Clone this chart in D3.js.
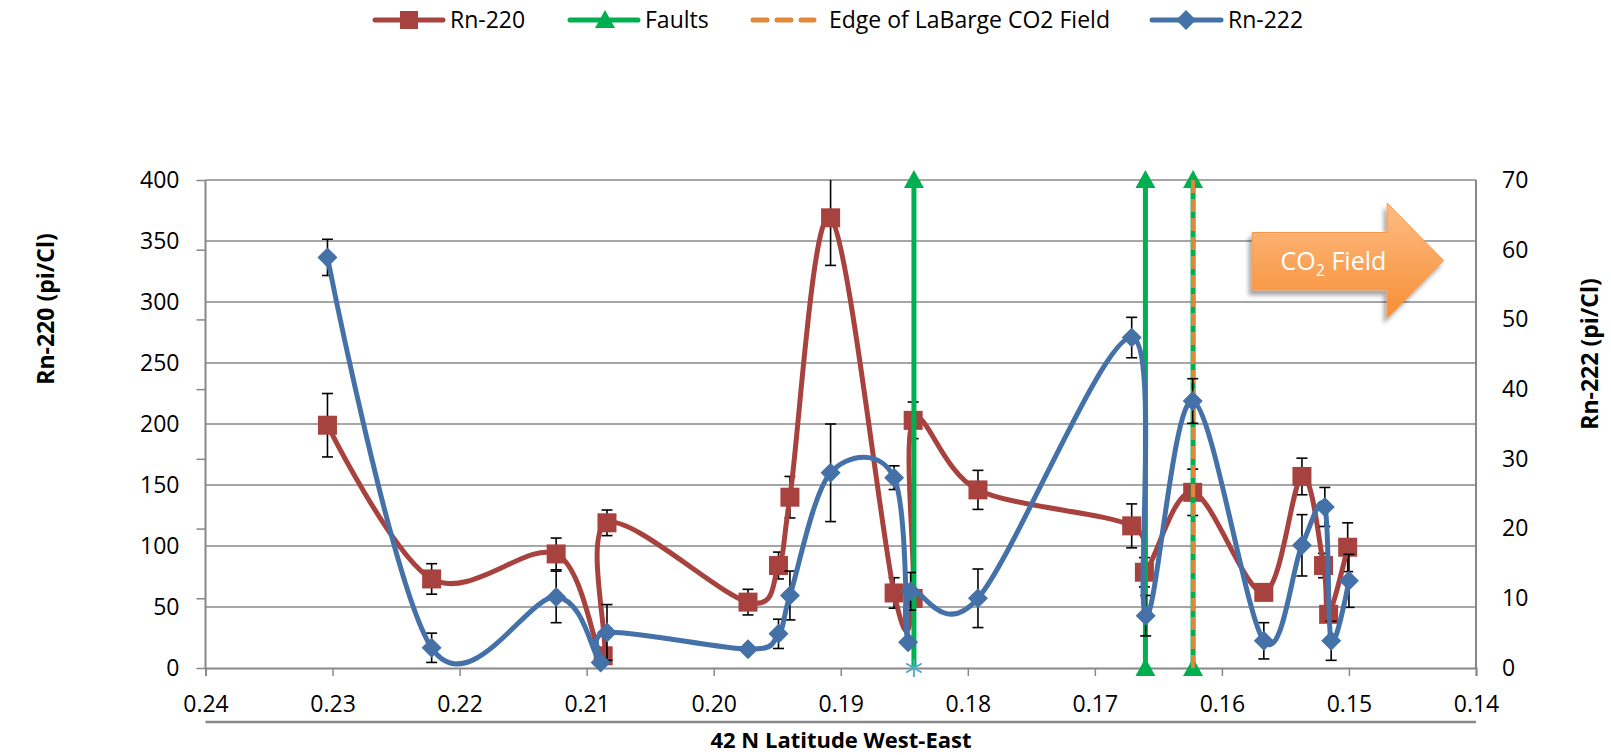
<!DOCTYPE html>
<html><head><meta charset="utf-8">
<script src="https://cdn.jsdelivr.net/npm/d3@7/dist/d3.min.js"></script>
<style>
body{margin:0;background:#fff}
text{font-family:"Open Sans",sans-serif}
</style>
</head><body>
<svg id="c" width="1611" height="755"></svg>
<script>
// ---------- DATA ----------
const rn220Lat = [0.2304, 0.2222, 0.2124, 0.2087, 0.2084, 0.1973, 0.1949, 0.1940, 0.1908, 0.1858, 0.1843, 0.1843, 0.1792, 0.1671, 0.1661, 0.1623, 0.1567, 0.1537, 0.1520, 0.1516, 0.1501];
const rn220Val = [199, 73, 93.5, 10, 119, 54, 84, 140, 369, 61.5, 57, 203, 146, 116.5, 78.5, 144, 62, 157, 84, 44, 99];
const rn220Err = [26, 12.5, 13, 4, 10.5, 10.5, 11, 17, 39, 12.5, 6, 15, 16, 18, 12, 19, 6, 15, 10, 6, 20];

const rn222Lat = [0.2304, 0.2222, 0.2124, 0.2089, 0.2084, 0.1973, 0.1949, 0.1940, 0.1908, 0.1858, 0.1847, 0.1845, 0.1792, 0.1671, 0.1660, 0.1623, 0.1567, 0.1537, 0.1519, 0.1514, 0.1500];
const rn222Val = [58.9, 2.9, 10.2, 0.8, 5.1, 2.7, 4.9, 10.4, 28.0, 27.3, 3.7, 11.0, 10.0, 47.4, 7.5, 38.3, 3.9, 17.6, 23.1, 3.9, 12.5];
const rn222Err = [2.6, 2.1, 3.7, 0.5, 4, 0.5, 2.1, 3.5, 7, 1.7, 0.5, 2.7, 4.2, 2.9, 2.9, 3.2, 2.6, 4.4, 2.8, 2.8, 3.8];

const faultLat = [0.18424, 0.16602, 0.16227];
const faultRange = [0, 400];
const edgeLat = [0.16227];

const xTicks = [0.24, 0.23, 0.22, 0.21, 0.20, 0.19, 0.18, 0.17, 0.16, 0.15, 0.14];
const yLeftTicks = [0, 50, 100, 150, 200, 250, 300, 350, 400];
const yRightTicks = [0, 10, 20, 30, 40, 50, 60, 70];

const legendItems = ["Rn-220", "Faults", "Edge of LaBarge CO2 Field", "Rn-222"];
const titles = {left: "Rn-220 (pi/Cl)", right: "Rn-222 (pi/Cl)", x: "42 N Latitude West-East"};

// ---------- SETUP ----------
const svg = d3.select("#c");
const L = 205.5, R = 1476, T = 180, B = 668;
const x = d3.scaleLinear().domain([0.24, 0.14]).range([L, R]);
const yL = d3.scaleLinear().domain([0, 400]).range([B, T]);
const yR = d3.scaleLinear().domain([0, 70]).range([B, T]);

const RED = "#A8423F", BLUE = "#4471A8", GREEN = "#00B050", ORANGE = "#E0873A", GRID = "#888888", TEAL = "#4BACC6";

const defs = svg.append("defs");
defs.append("clipPath").attr("id", "plotclip").append("rect")
  .attr("x", L - 20).attr("y", T).attr("width", R - L + 40).attr("height", B - T + 1);
const grad = defs.append("linearGradient").attr("id", "og").attr("x1", 0).attr("y1", 0).attr("x2", 0).attr("y2", 1);
grad.append("stop").attr("offset", "0%").attr("stop-color", "#FDBD84");
grad.append("stop").attr("offset", "100%").attr("stop-color", "#F78E35");
const flt = defs.append("filter").attr("id", "sh").attr("x", "-20%").attr("y", "-20%").attr("width", "140%").attr("height", "150%");
flt.append("feDropShadow").attr("dx", -3).attr("dy", 5).attr("stdDeviation", 2).attr("flood-color", "#000").attr("flood-opacity", 0.35);

// gridlines
svg.append("g").selectAll("line").data(yLeftTicks.filter(d => d > 0)).join("line")
  .attr("x1", L).attr("x2", R).attr("y1", d => yL(d)).attr("y2", d => yL(d))
  .attr("stroke", GRID).attr("stroke-width", 1.5);

// axes
const fmtX = d3.format(".2f");
const gx = svg.append("g").attr("transform", `translate(0,${B})`)
  .call(d3.axisBottom(x).tickValues(xTicks).tickSize(8).tickPadding(20).tickFormat(fmtX));
const gl = svg.append("g").attr("transform", `translate(${L},0)`)
  .call(d3.axisLeft(yL).tickValues(yLeftTicks).tickSize(0).tickPadding(26));
const glt = svg.append("g").attr("transform", `translate(${L},0)`)
  .call(d3.axisLeft(yR).tickValues(yRightTicks).tickSize(9).tickFormat(""));
const gr = svg.append("g").attr("transform", `translate(${R},0)`)
  .call(d3.axisRight(yR).tickValues(yRightTicks).tickSize(0).tickPadding(26));
[gx, gl, glt, gr].forEach(g => {
  g.select(".domain").attr("stroke", GRID).attr("stroke-width", 2);
  g.selectAll(".tick line").attr("stroke", GRID).attr("stroke-width", 1.5);
  g.selectAll("text").attr("font-size", 23).attr("fill", "#000").attr("font-family", "Open Sans");
});
glt.select(".domain").remove();
gl.select(".domain").attr("d", `M0,${T}V${B}`);
gr.select(".domain").attr("d", `M0,${T}V${B}`);

// line under x labels
svg.append("line").attr("x1", L).attr("x2", R).attr("y1", 722).attr("y2", 722)
  .attr("stroke", GRID).attr("stroke-width", 2.5);

// arrow annotation (in data units)
const arrowPts = [[0.15762, 357], [0.14699, 357], [0.14699, 381], [0.14254, 334], [0.14699, 287], [0.14699, 310], [0.15762, 310]];
svg.append("polygon").attr("points", arrowPts.map(p => [x(p[0]), yL(p[1])].join(",")).join(" "))
  .attr("fill", "url(#og)").attr("stroke", "#F79646").attr("stroke-width", 1).attr("filter", "url(#sh)");
const at = svg.append("text").attr("x", x(0.15122)).attr("y", yL(334)).attr("dy", "0.36em")
  .attr("text-anchor", "middle").attr("fill", "#fff").attr("font-size", 25);
at.append("tspan").text("CO");
at.append("tspan").text("2").attr("font-size", 16).attr("dy", 6);
at.append("tspan").text(" Field").attr("dy", -6);

const curve = d3.curveCardinal.tension(0);
function errBars(lat, val, err, ys) {
  const g = svg.append("g").attr("clip-path", "url(#plotclip)").attr("stroke", "#000").attr("stroke-width", 1.6);
  lat.forEach((d, i) => {
    const cx = x(d), y0 = ys(val[i] - err[i]), y1 = ys(val[i] + err[i]);
    g.append("line").attr("x1", cx).attr("x2", cx).attr("y1", y0).attr("y2", y1);
    g.append("line").attr("x1", cx - 5.5).attr("x2", cx + 5.5).attr("y1", y0).attr("y2", y0);
    g.append("line").attr("x1", cx - 5.5).attr("x2", cx + 5.5).attr("y1", y1).attr("y2", y1);
  });
}

// Rn-220
errBars(rn220Lat, rn220Val, rn220Err, yL);
const redPts = rn220Lat.map((d, i) => [x(d), yL(rn220Val[i])]);
svg.append("path").attr("d", d3.line().curve(curve)(redPts)).attr("fill", "none")
  .attr("stroke", RED).attr("stroke-width", 5).attr("stroke-linejoin", "round");
svg.append("g").selectAll("rect").data(redPts).join("rect")
  .attr("x", d => d[0] - 9.5).attr("y", d => d[1] - 9.5).attr("width", 19).attr("height", 19).attr("fill", RED);

// Faults
const triUp = "M0,-10L10,8L-10,8Z";
faultLat.forEach((f, i) => {
  svg.append("line").attr("x1", x(f)).attr("x2", x(f)).attr("y1", yL(faultRange[0])).attr("y2", yL(faultRange[1]))
    .attr("stroke", GREEN).attr("stroke-width", 5);
  svg.append("path").attr("d", triUp).attr("fill", GREEN).attr("transform", `translate(${x(f)},${yL(faultRange[1])})`);
  if (i === 0) {
    const g = svg.append("g").attr("transform", `translate(${x(f)},${yL(faultRange[0])})`)
      .attr("stroke", TEAL).attr("stroke-width", 1.8);
    [90, 30, 150].forEach(a => {
      const r = a * Math.PI / 180, dx = 9 * Math.cos(r), dy = 9 * Math.sin(r);
      g.append("line").attr("x1", -dx).attr("y1", -dy).attr("x2", dx).attr("y2", dy);
    });
  } else {
    svg.append("path").attr("d", triUp).attr("fill", GREEN).attr("transform", `translate(${x(f)},${yL(faultRange[0])})`);
  }
});

// Edge of CO2 field
edgeLat.forEach(e => {
  svg.append("line").attr("x1", x(e)).attr("x2", x(e)).attr("y1", yL(faultRange[0])).attr("y2", yL(faultRange[1]))
    .attr("stroke", ORANGE).attr("stroke-width", 4).attr("stroke-dasharray", "13,6");
});

// Rn-222
errBars(rn222Lat, rn222Val, rn222Err, yR);
const bluePts = rn222Lat.map((d, i) => [x(d), yR(rn222Val[i])]);
svg.append("path").attr("d", d3.line().curve(curve)(bluePts)).attr("fill", "none")
  .attr("stroke", BLUE).attr("stroke-width", 5).attr("stroke-linejoin", "round");
const dia = "M0,-10L10,0L0,10L-10,0Z";
svg.append("g").selectAll("path").data(bluePts).join("path")
  .attr("d", dia).attr("transform", d => `translate(${d[0]},${d[1]})`).attr("fill", BLUE);

// Legend
const LY = 20;
const lg = svg.append("g");
function legLine(x1, x2, col, dash) {
  lg.append("line").attr("x1", x1).attr("x2", x2).attr("y1", LY).attr("y2", LY)
    .attr("stroke", col).attr("stroke-width", 5).attr("stroke-linecap", "round")
    .attr("stroke-dasharray", dash || null);
}
function legText(tx, s) {
  lg.append("text").attr("x", tx).attr("y", LY).attr("dy", "0.36em").attr("font-size", 23).attr("fill", "#000").text(s);
}
legLine(375, 443, RED);
lg.append("rect").attr("x", 400).attr("y", LY - 9).attr("width", 18).attr("height", 18).attr("fill", RED);
legText(450, legendItems[0]);
legLine(570, 638, GREEN);
lg.append("path").attr("d", triUp).attr("fill", GREEN).attr("transform", `translate(605,${LY})`);
legText(645, legendItems[1]);
legLine(753, 814, ORANGE, "14,10");
legText(829, legendItems[2]);
legLine(1152, 1221, BLUE);
lg.append("path").attr("d", dia).attr("fill", BLUE).attr("transform", `translate(1186,${LY})`);
legText(1228, legendItems[3]);

// Axis titles
svg.append("text").attr("transform", "translate(46,309) rotate(-90)").attr("text-anchor", "middle")
  .attr("dy", "0.36em").attr("font-size", 23).attr("font-weight", "bold").text(titles.left);
svg.append("text").attr("transform", "translate(1590,354) rotate(-90)").attr("text-anchor", "middle")
  .attr("dy", "0.36em").attr("font-size", 23).attr("font-weight", "bold").text(titles.right);
svg.append("text").attr("x", 841).attr("y", 747.5).attr("text-anchor", "middle")
  .attr("font-size", 22).attr("font-weight", "bold").text(titles.x);
</script>
</body></html>
